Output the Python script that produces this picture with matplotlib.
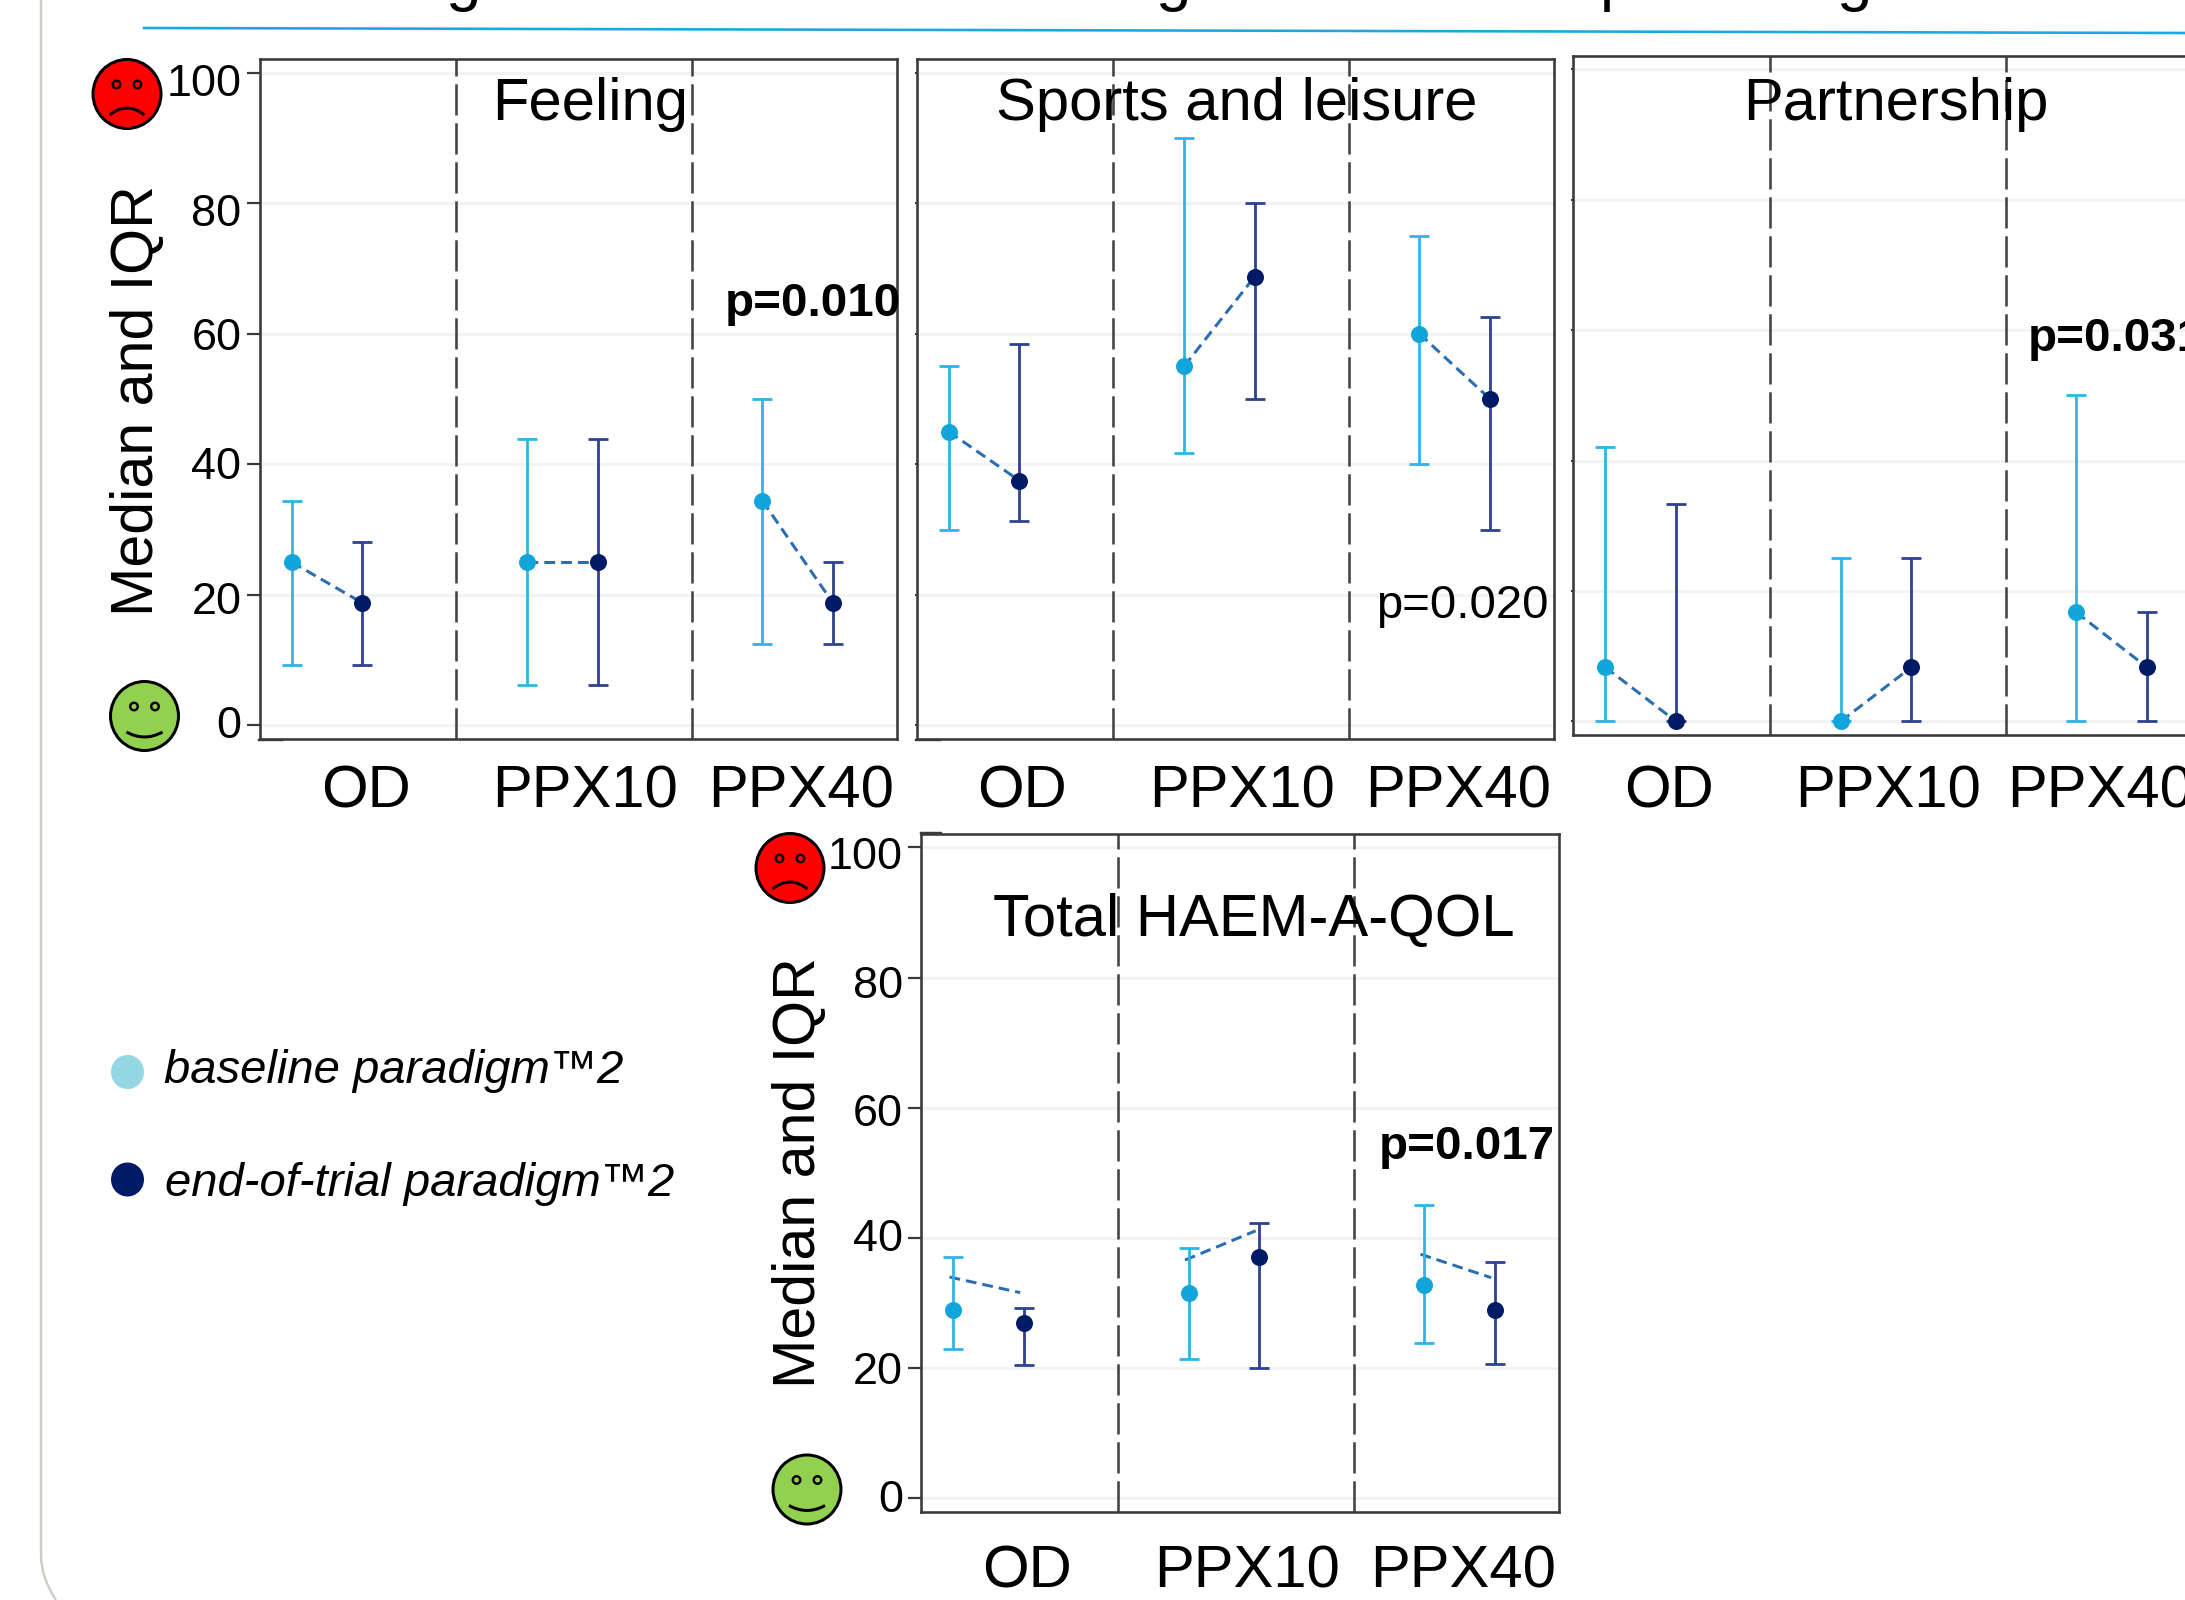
import numpy as np
from matplotlib import pyplot as plt
from matplotlib.patches import Ellipse, PathPatch
from matplotlib.path import Path
from matplotlib.transforms import ScaledTranslation

plt.rcParams['font.family'] = ['Liberation Sans', 'DejaVu Sans']

W, H = 2185, 1600
DPI = 100

groups = ['OD', 'PPX10', 'PPX40']
y_ticks = [0, 20, 40, 60, 80, 100]
y_label = 'Median and IQR'
legend_labels = ['baseline paradigm\u21222', 'end-of-trial paradigm\u21222']

# each array is OD, PPX10, PPX40
feeling_base_med = [25, 25, 34.4]
feeling_base_low = [9.3, 6.25, 12.5]
feeling_base_high = [34.3, 43.8, 50]
feeling_end_med = [18.75, 25, 18.75]
feeling_end_low = [9.3, 6.25, 12.5]
feeling_end_high = [28.1, 43.8, 25]

sports_base_med = [45, 55, 60]
sports_base_low = [30, 41.7, 40]
sports_base_high = [55, 90, 75]
sports_end_med = [37.5, 68.75, 50]
sports_end_low = [31.25, 50, 30]
sports_end_high = [58.4, 80, 62.5]

partner_base_med = [8.3, 0, 16.7]
partner_base_low = [0, 0, 0]
partner_base_high = [42, 25, 50]
partner_end_med = [0, 8.3, 8.3]
partner_end_low = [0, 0, 0]
partner_end_high = [33.3, 25, 16.7]

total_base_med = [29, 31.5, 32.8]
total_base_low = [23, 21.4, 23.9]
total_base_high = [37, 38.4, 45]
total_end_med = [27, 37, 29]
total_end_low = [20.5, 20, 20.6]
total_end_high = [29.3, 42.3, 36.3]
# the dashed lines of the total panel do not sit on the medians
total_line_base = [34, 36.6, 37.5]
total_line_end = [31.6, 41.1, 33.9]

BASE_LINE = '#2FB4E6'
BASE_DOT = '#12A5DC'
END_LINE = '#2E4290'
END_DOT = '#001A66'
JOIN = '#2A6DB0'
DASH = '#444444'
SPINE = '#3A3A3A'
GRID = '#F3F3F3'


def px(v):
    # pixels to points at this dpi
    return v * 72 / DPI


def draw_panel(box, base, end, tick_px, pad, line_base=None, line_end=None, shift=0,
               show_y=False, tick_shift=None):
    left, top, right, bottom = box
    ax = fig.add_axes([left / W, 1 - bottom / H, (right - left) / W, (bottom - top) / H])
    scale = (right - left) / 2.709
    x0 = -0.287
    ax.set_xlim(x0, x0 + 2.709)
    ax.set_ylim(-2.1, 102.1)
    ax.set_yticks(y_ticks)
    ax.grid(axis='y', color=GRID, lw=px(3))
    ax.set_axisbelow(True)
    for s in ax.spines.values():
        s.set_color(SPINE)
        s.set_linewidth(px(2.6))
    for xv in [0.55, 1.55]:
        ax.axvline(xv, color=DASH, lw=px(2.6), dashes=(12, 3))

    ax.set_xticks([x0 + (t / scale) for t in tick_px])
    ax.set_xticklabels(groups, fontsize=43)
    ax.tick_params(axis='x', length=0, pad=px(pad))
    if show_y:
        ax.tick_params(axis='y', length=px(13), width=px(2.2), color=SPINE, pad=px(5), labelsize=32.4)
        ax.figure.canvas.draw()
        for lab, dy in zip(ax.get_yticklabels(), tick_shift):
            lab.set_transform(lab.get_transform() + ScaledTranslation(0, -dy / DPI, fig.dpi_scale_trans))
    else:
        ax.tick_params(axis='y', length=px(2), width=px(2), color=SPINE, labelleft=False)

    centers = np.arange(len(groups))
    x_base = centers - 0.15
    x_end = centers + 0.15
    for i in centers:
        yb = base[0][i] if line_base is None else line_base[i]
        ye = end[0][i] if line_end is None else line_end[i]
        ax.plot([x_base[i] + shift, x_end[i] + shift], [yb, ye], color=JOIN, lw=px(3),
                dashes=(3.6, 2), zorder=2)
    for xs, (med, low, high), lc, dc in [(x_base, base, BASE_LINE, BASE_DOT), (x_end, end, END_LINE, END_DOT)]:
        med = np.array(med)
        err = [med - np.array(low), np.array(high) - med]
        ax.errorbar(xs, med, yerr=err, fmt='none', ecolor=lc, elinewidth=px(2.8),
                    capsize=px(10), capthick=px(2.8), zorder=3)
        ax.plot(xs, med, 'o', color=dc, ms=px(17), mew=0, zorder=4, clip_on=False)
    return ax


fig = plt.figure(figsize=(W / DPI, H / DPI), dpi=DPI, facecolor='white')

draw_panel((259.5, 59, 897, 739),
           (feeling_base_med, feeling_base_low, feeling_base_high),
           (feeling_end_med, feeling_end_low, feeling_end_high),
           [106, 326, 542], 26, show_y=True, tick_shift=[-3, 3.5, -1, 0.5, 6.5, 7.5])
draw_panel((916.5, 59, 1554, 739),
           (sports_base_med, sports_base_low, sports_base_high),
           (sports_end_med, sports_end_low, sports_end_high),
           [106, 326, 542], 26)
draw_panel((1573, 55.6, 2211, 735),
           (partner_base_med, partner_base_low, partner_base_high),
           (partner_end_med, partner_end_low, partner_end_high),
           [96, 315, 527], 30)
draw_panel((921, 833.7, 1559, 1512),
           (total_base_med, total_base_low, total_base_high),
           (total_end_med, total_end_low, total_end_high),
           [106, 326, 542], 32, total_line_base, total_line_end, shift=-0.016,
           show_y=True, tick_shift=[-2.5, 0, -2.5, 2.5, 4, 6])

# everything around the panels goes on a full figure layer in pixel coordinates
top = fig.add_axes([0, 0, 1, 1], zorder=10)
top.set_xlim(0, W)
top.set_ylim(H, 0)
top.axis('off')
top.patch.set_alpha(0)

# slide furniture: rule, rounded frame, cut off title
top.plot([144, 2185], [28, 33], color='#1BA8E0', lw=px(2.6))
frame = Path([(41, 0), (41, 1555), (41, 1578), (56, 1600)], [Path.MOVETO, Path.LINETO, Path.CURVE3, Path.CURVE3])
top.add_patch(PathPatch(frame, fc='none', ec='#CFCBC6', lw=px(2.4)))
for ch, xp in zip('ggpg', [463, 1173, 1618, 1854]):
    top.text(xp, -1.5, ch, fontsize=46, ha='center', va='baseline', color='black')

# bottom and top stubs left over from the axis lines
for xs, ys in [((259, 282), (740, 740)), ((916, 940), (740, 740)), ((921, 941), (833, 833))]:
    top.plot(xs, ys, color=SPINE, lw=px(2.4))

# panel titles
top.text(590, 120.5, 'Feeling', fontsize=43, ha='center', va='baseline')
top.text(1237, 120.5, 'Sports and leisure', fontsize=43, ha='center', va='baseline')
top.text(1896, 120.5, 'Partnership', fontsize=43, ha='center', va='baseline')
top.text(1254, 936, 'Total HAEM-A-QOL', fontsize=43, ha='center', va='baseline')

# p values
top.text(725, 304, 'p=0.010', fontsize=34.2, fontweight='bold', ha='left', va='center')
top.text(1376, 606, 'p=0.020', fontsize=34, ha='left', va='center')
top.text(2028, 339, 'p=0.031', fontsize=34.2, fontweight='bold', ha='left', va='center')
top.text(1379, 1147, 'p=0.017', fontsize=34.2, fontweight='bold', ha='left', va='center')

# y labels
top.text(138, 401, y_label, fontsize=42.6, rotation=90, ha='center', va='center')
top.text(800, 1173, y_label, fontsize=42.6, rotation=90, ha='center', va='center')


def face(cx, cy, color, happy):
    top.add_patch(Ellipse((cx, cy), 68, 69, fc=color, ec='black', lw=px(3)))
    for dx in (-10.5, 10.5):
        top.add_patch(Ellipse((cx + dx, cy - 9.5), 7.5, 7.5, fc='none', ec='black', lw=px(2.4)))
    if happy:
        mouth = Path([(cx - 18, cy + 16), (cx, cy + 26), (cx + 18, cy + 16)], [Path.MOVETO, Path.CURVE3, Path.CURVE3])
    else:
        mouth = Path([(cx - 17.5, cy + 21), (cx, cy + 7), (cx + 17.5, cy + 21)], [Path.MOVETO, Path.CURVE3, Path.CURVE3])
    top.add_patch(PathPatch(mouth, fc='none', ec='black', lw=px(3)))


face(127, 94, '#FF0000', False)
face(144.5, 716, '#92D050', True)
face(790, 868, '#FF0000', False)
face(807, 1489.5, '#92D050', True)

# legend
for cy, color, lab, xp, base_y in zip([1072, 1179.5], ['#93D7E3', '#001A66'], legend_labels, [164, 165], [1083, 1196]):
    top.add_patch(Ellipse((127.5, cy), 33, 34, fc=color, ec='none'))
    top.text(xp, base_y, lab, fontsize=34, fontstyle='italic', ha='left', va='baseline')

fig.savefig('out.png', dpi=DPI)
